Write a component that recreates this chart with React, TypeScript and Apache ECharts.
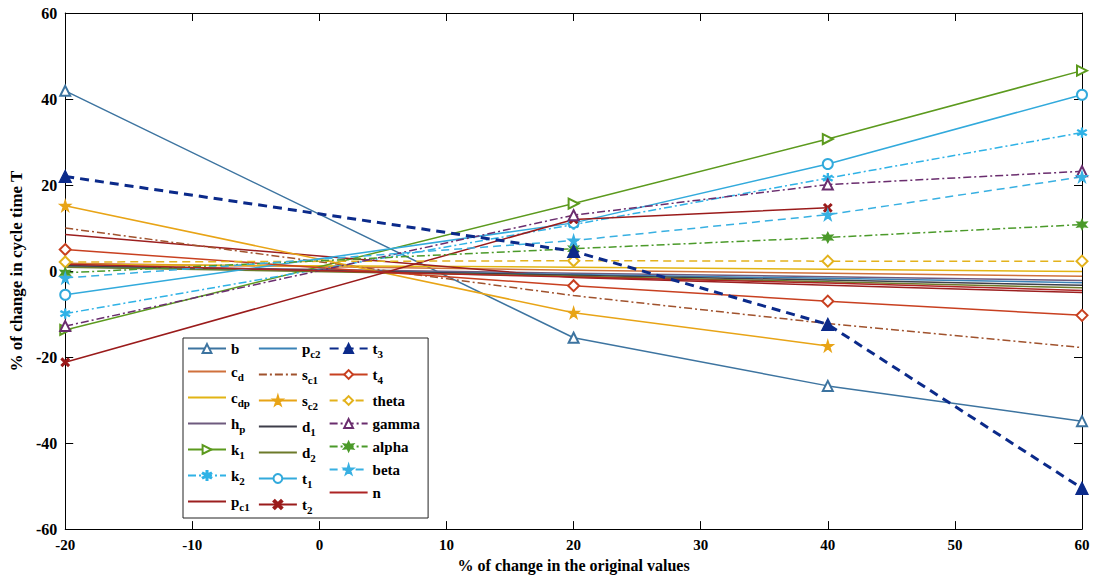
import React, { useEffect, useRef } from "react";
import * as echarts from "echarts";

// ---- data ----
const xFull = [-20, 20, 40, 60];
const xShort = [-20, 20, 40];

const b = [41.9, -15.5, -26.7, -34.9];
const c_d = [1.8, 0.2, -0.5, -1.2];
const c_dp = [1.5, 0.9, 0.4, -0.1];
const h_p = [1.2, -0.5, -1.3, -2.2];
const k_1 = [-13.7, 15.7, 30.7, 46.6];
const k_2 = [-9.9, 10.8, 21.6, 32.2];
const p_c1 = [8.5, -1.5, -3.3, -5.0];
const p_c2 = [1.0, -0.8, -1.7, -2.7];
const s_c1 = [10.0, -5.7, -12.2, -17.8];
const s_c2 = [15.2, -9.7, -17.4];
const d_1 = [1.3, -1.0, -2.1, -3.3];
const d_2 = [0.9, -1.2, -2.5, -3.9];
const t_1 = [-5.5, 11.2, 24.9, 41.0];
const t_2 = [-21.2, 12.0, 14.7];
const t_3 = [22.0, 4.6, -12.4, -50.5];
const t_4 = [5.0, -3.4, -7.0, -10.3];
const theta = [2.1, 2.4, 2.3, 2.3];
const gamma = [-12.8, 13.0, 20.1, 23.2];
const alpha = [-0.4, 5.2, 7.8, 10.8];
const beta = [-1.6, 7.1, 13.1, 21.9];
const n = [1.6, -1.4, -2.8, -4.5];

const xTitle = "% of change in the original values";
const yTitle = "% of change in cycle time T";

// ---- styles ----
const STAR = "path://M50,0 L61,35 L98,35 L68,57 L79,91 L50,70 L21,91 L32,57 L2,35 L39,35 Z";
const HEX = "path://M50,0 L62,29 L93,25 L75,50 L93,75 L62,71 L50,100 L38,71 L7,75 L25,50 L7,25 L38,29 Z";
const CROSS = "path://M0,15 L15,0 L50,35 L85,0 L100,15 L65,50 L100,85 L85,100 L50,65 L15,100 L0,85 L35,50 Z";
const ASTER = "path://M45,0 L55,0 L55,38 L88,19 L93,28 L60,47 L60,53 L93,72 L88,81 L55,62 L55,100 L45,100 L45,62 L12,81 L7,72 L40,53 L40,47 L7,28 L12,19 L45,38 Z";

const DASHDOT = [8, 3, 2, 3];
const DASH = [8, 5];

type Def = {
  name: string;
  data: number[];
  xs: number[];
  color: string;
  dash?: any;
  width?: number;
  symbol?: string;
  size?: number;
  rotate?: number;
};

const defs: Def[] = [
  { name: "b", data: b, xs: xFull, color: "#3d74a0", symbol: "emptyTriangle", size: 10 },
  { name: "c_d", data: c_d, xs: xFull, color: "#d0713c" },
  { name: "c_dp", data: c_dp, xs: xFull, color: "#e2b414" },
  { name: "h_p", data: h_p, xs: xFull, color: "#6e5a7e" },
  { name: "k_1", data: k_1, xs: xFull, color: "#5c9a1e", symbol: "emptyTriangle", size: 10, rotate: -90 },
  { name: "k_2", data: k_2, xs: xFull, color: "#2fb2e6", dash: DASHDOT, symbol: ASTER, size: 9 },
  { name: "p_c1", data: p_c1, xs: xFull, color: "#9c1f1f" },
  { name: "p_c2", data: p_c2, xs: xFull, color: "#3a82b6" },
  { name: "s_c1", data: s_c1, xs: xFull, color: "#a0522d", dash: DASHDOT },
  { name: "s_c2", data: s_c2, xs: xShort, color: "#e8a416", symbol: STAR, size: 11 },
  { name: "d_1", data: d_1, xs: xFull, color: "#3e3e4a" },
  { name: "d_2", data: d_2, xs: xFull, color: "#6d7a2a" },
  { name: "t_1", data: t_1, xs: xFull, color: "#32aadc", symbol: "emptyCircle", size: 10 },
  { name: "t_2", data: t_2, xs: xShort, color: "#9a1b1b", symbol: CROSS, size: 8 },
  { name: "t_3", data: t_3, xs: xFull, color: "#0b2a8a", dash: [9, 6], width: 3, symbol: "triangle", size: 12 },
  { name: "t_4", data: t_4, xs: xFull, color: "#c84020", symbol: "emptyDiamond", size: 11 },
  { name: "theta", data: theta, xs: xFull, color: "#e3b21c", dash: DASH, symbol: "emptyDiamond", size: 11 },
  { name: "gamma", data: gamma, xs: xFull, color: "#6a2d6e", dash: DASHDOT, symbol: "emptyTriangle", size: 10 },
  { name: "alpha", data: alpha, xs: xFull, color: "#4b9a2a", dash: DASHDOT, symbol: HEX, size: 10 },
  { name: "beta", data: beta, xs: xFull, color: "#38b0e2", dash: DASH, symbol: STAR, size: 11 },
  { name: "n", data: n, xs: xFull, color: "#ad2424" },
];

const FONT = "'Liberation Serif', 'Times New Roman', serif";

function fmtName(name: string): string {
  const i = name.indexOf("_");
  if (i < 0) return "{m|" + name + "}";
  return "{m|" + name.slice(0, i) + "}{s|" + name.slice(i + 1) + "}";
}

export default function App() {
  const ref = useRef<HTMLDivElement>(null);
  useEffect(() => {
    if (!ref.current) return;
    const chart = echarts.init(ref.current, undefined, { renderer: "svg" });
    const series = defs.map((d) => ({
      name: d.name,
      type: "line",
      xAxisIndex: 0,
      yAxisIndex: 0,
      data: d.data.map((v, i) => [d.xs[i], v]),
      showSymbol: !!d.symbol,
      symbol: d.symbol || "none",
      symbolSize: d.size || 8,
      symbolRotate: d.rotate || 0,
      z: d.name === "t_3" ? 5 : 2,
      lineStyle: { color: d.color, width: d.width || 1.5, type: d.dash || "solid" },
      itemStyle: { color: d.color, borderColor: d.color, borderWidth: d.symbol ? 1.3 : 0 },
      emphasis: { disabled: true },
    }));
    const legendData = defs.map((d) =>
      d.symbol ? { name: d.name } : { name: d.name, itemStyle: { opacity: 0 } }
    );
    const axisLine = { show: true, onZero: false, lineStyle: { color: "#000", width: 1 } };
    const axisTick = { show: true, inside: true, length: 8, lineStyle: { color: "#000" } };
    const axisText = { color: "#000", fontFamily: FONT, fontWeight: "bold", fontSize: 15 };
    chart.setOption({
      animation: false,
      backgroundColor: "#fff",
      grid: { left: 57, right: 13, top: 13, bottom: 48, containLabel: false },
      xAxis: [
        {
          type: "value", min: -20, max: 60, interval: 10, position: "bottom",
          axisLine, axisTick,
          axisLabel: { ...axisText, margin: 8 },
          splitLine: { show: false },
          name: xTitle, nameLocation: "middle", nameGap: 27,
          nameTextStyle: { ...axisText, fontSize: 16 },
        },
        {
          type: "value", min: -20, max: 60, interval: 10, position: "top",
          axisLine, axisTick,
          axisLabel: { show: false }, splitLine: { show: false },
        },
      ],
      yAxis: [
        {
          type: "value", min: -60, max: 60, interval: 20, position: "left",
          axisLine, axisTick,
          axisLabel: { ...axisText, fontSize: 16, margin: 8 },
          splitLine: { show: false },
          name: yTitle, nameLocation: "middle", nameGap: 21, nameRotate: 90,
          nameTextStyle: { ...axisText, fontSize: 17 },
        },
        {
          type: "value", min: -60, max: 60, interval: 20, position: "right",
          axisLine, axisTick,
          axisLabel: { show: false }, splitLine: { show: false },
        },
      ],
      legend: {
        data: legendData,
        orient: "vertical",
        left: 183,
        top: 338,
        height: 176,
        itemGap: 8,
        itemWidth: 38,
        itemHeight: 11,
        padding: [3, 8, 3, 4],
        backgroundColor: "#fff",
        borderColor: "#222",
        borderWidth: 1,
        selectedMode: false,
        formatter: (name: string) => fmtName(name),
        textStyle: {
          color: "#000",
          fontFamily: FONT,
          fontWeight: "bold",
          fontSize: 15,
          rich: {
            m: { fontFamily: FONT, fontWeight: "bold", fontSize: 15, color: "#000" },
            s: { fontFamily: FONT, fontWeight: "bold", fontSize: 11, color: "#000", padding: [10, 0, 0, 0] },
          },
        },
      },
      series,
    });
    return () => chart.dispose();
  }, []);
  return (
    <div
      ref={ref}
      style={{ position: "absolute", left: 0, top: 0, width: 1095, height: 578, background: "#fff" }}
    />
  );
}
